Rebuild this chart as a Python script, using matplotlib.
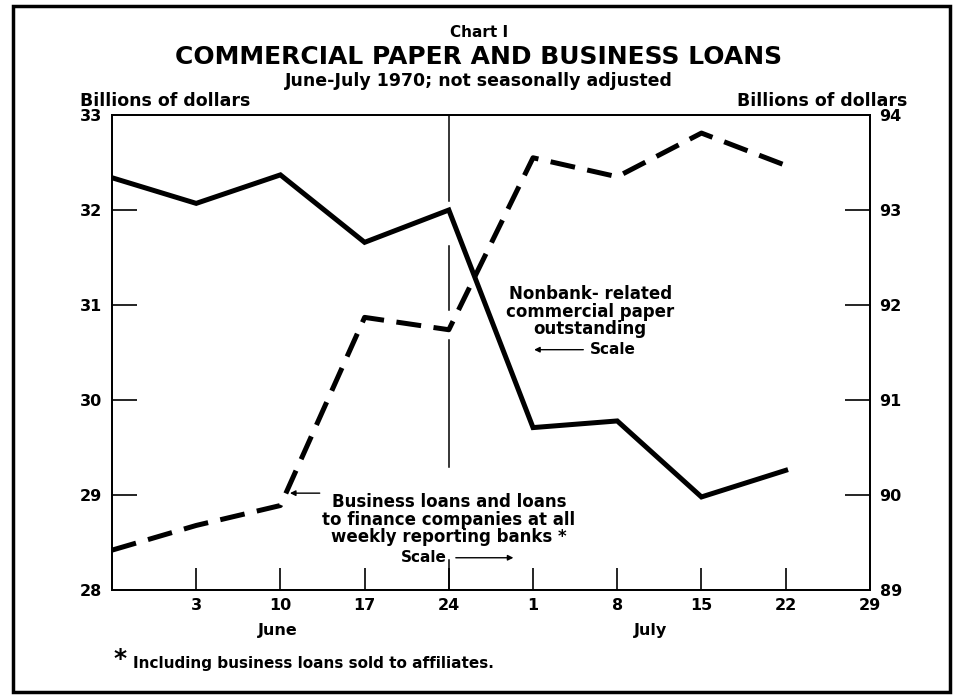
import matplotlib
matplotlib.use("Agg")
import matplotlib.pyplot as plt
from matplotlib.patches import Rectangle

# weekly points, week 0 = May 27 1970
weeks = [0, 1, 2, 3, 4, 5, 6, 7, 8]
paper = [32.34, 32.07, 32.37, 31.66, 32.0, 29.71, 29.78, 28.98, 29.26]   # left scale
loans = [89.42, 89.68, 89.89, 91.87, 91.74, 93.55, 93.35, 93.81, 93.47]  # right scale
tick_pos = [1, 2, 3, 4, 5, 6, 7, 8, 9]
tick_lab = ["3", "10", "17", "24", "1", "8", "15", "22", "29"]
left_ticks = [29, 30, 31, 32]
right_ticks = [90, 91, 92, 93]

plt.rcParams['font.family'] = ['DejaVu Sans']
fig = plt.figure(figsize=(9.58, 6.95), dpi=100)
ax = fig.add_axes([0.1169, 0.151, 0.7911, 0.6835])
ax2 = ax.twinx()

ax.plot(weeks, paper, color='black', lw=3.6, solid_joinstyle='miter', zorder=3)
ax2.plot(weeks, loans, color='black', lw=3.6, dashes=(5, 2.5), zorder=3)

ax.set_xlim(0, 9)
ax.set_ylim(28, 33)
ax2.set_ylim(89, 94)

# vertical divider at June 24, broken where lines and text cross it
for lo, hi in [(0.82, 1.0), (0.59, 0.725), (0.26, 0.526), (0.0, 0.063)]:
    ax.axvline(4, ymin=lo, ymax=hi, color='black', lw=1.1)

ax.set_xticks(tick_pos)
ax.set_xticklabels(tick_lab, fontsize=11.5, fontweight='bold')
ax.set_yticks(left_ticks + [28, 33])
ax.set_yticklabels([str(v) for v in left_ticks + [28, 33]], fontsize=11.5, fontweight='bold')
ax2.set_yticks(right_ticks + [89, 94])
ax2.set_yticklabels([str(v) for v in right_ticks + [89, 94]], fontsize=11.5, fontweight='bold')

ax.tick_params(axis='x', direction='in', length=16, width=1.2, pad=6)
ax.tick_params(axis='y', direction='in', length=18, width=1.2, pad=7)
ax2.tick_params(axis='y', direction='in', length=18, width=1.2, pad=7)
for t in ax.yaxis.get_major_ticks()[-2:]:
    t.tick1line.set_visible(False)
for t in ax2.yaxis.get_major_ticks()[-2:]:
    t.tick2line.set_visible(False)
ax.xaxis.get_major_ticks()[-1].tick1line.set_visible(False)
for a in (ax, ax2):
    for s in a.spines.values():
        s.set_linewidth(1.3)

# titles
fig.text(0.5, 0.953, "Chart I", ha='center', va='center', fontsize=11, fontweight='bold')
fig.text(0.5, 0.918, "COMMERCIAL PAPER AND BUSINESS LOANS", ha='center', va='center',
         fontsize=18, fontweight='bold')
fig.text(0.5, 0.884, "June-July 1970; not seasonally adjusted", ha='center', va='center',
         fontsize=12.5, fontweight='bold')
fig.text(0.083, 0.854, "Billions of dollars", ha='left', va='center', fontsize=12.5, fontweight='bold')
fig.text(0.947, 0.854, "Billions of dollars", ha='right', va='center', fontsize=12.5, fontweight='bold')

ax.text(1.97, -0.085, "June", transform=ax.get_xaxis_transform(), ha='center', va='center',
        fontsize=11.5, fontweight='bold')
ax.text(6.4, -0.085, "July", transform=ax.get_xaxis_transform(), ha='center', va='center',
        fontsize=11.5, fontweight='bold')

fig.text(0.118, 0.052, "*", ha='left', va='center', fontsize=18, fontweight='bold')
fig.text(0.139, 0.045, "Including business loans sold to affiliates.", ha='left', va='center',
         fontsize=11, fontweight='bold')

# annotations
ax.text(5.68, 30.93, "Nonbank- related\ncommercial paper\noutstanding", ha='center', va='center',
        fontsize=12, fontweight='bold', linespacing=0.95)
ax.annotate("", xy=(4.98, 30.53), xytext=(5.63, 30.53),
            arrowprops=dict(arrowstyle='-|>', color='black', lw=1.0, mutation_scale=8))
ax.text(5.68, 30.53, "Scale", ha='left', va='center', fontsize=11, fontweight='bold')

ax.text(4.0, 28.74, "Business loans and loans\nto finance companies at all\nweekly reporting banks *",
        ha='center', va='center', fontsize=12, fontweight='bold', linespacing=0.95)
ax.annotate("", xy=(2.08, 29.02), xytext=(2.5, 29.02),
            arrowprops=dict(arrowstyle='-|>', color='black', lw=1.0, mutation_scale=8))
ax.text(3.98, 28.34, "Scale", ha='right', va='center', fontsize=11, fontweight='bold')
ax.annotate("", xy=(4.8, 28.34), xytext=(4.05, 28.34),
            arrowprops=dict(arrowstyle='-|>', color='black', lw=1.0, mutation_scale=8))

# page border
fig.patches.append(Rectangle((0.0136, 0.005), 0.978, 0.986, transform=fig.transFigure,
                             fill=False, edgecolor='black', lw=2.5))

fig.savefig("out.png", dpi=100)
